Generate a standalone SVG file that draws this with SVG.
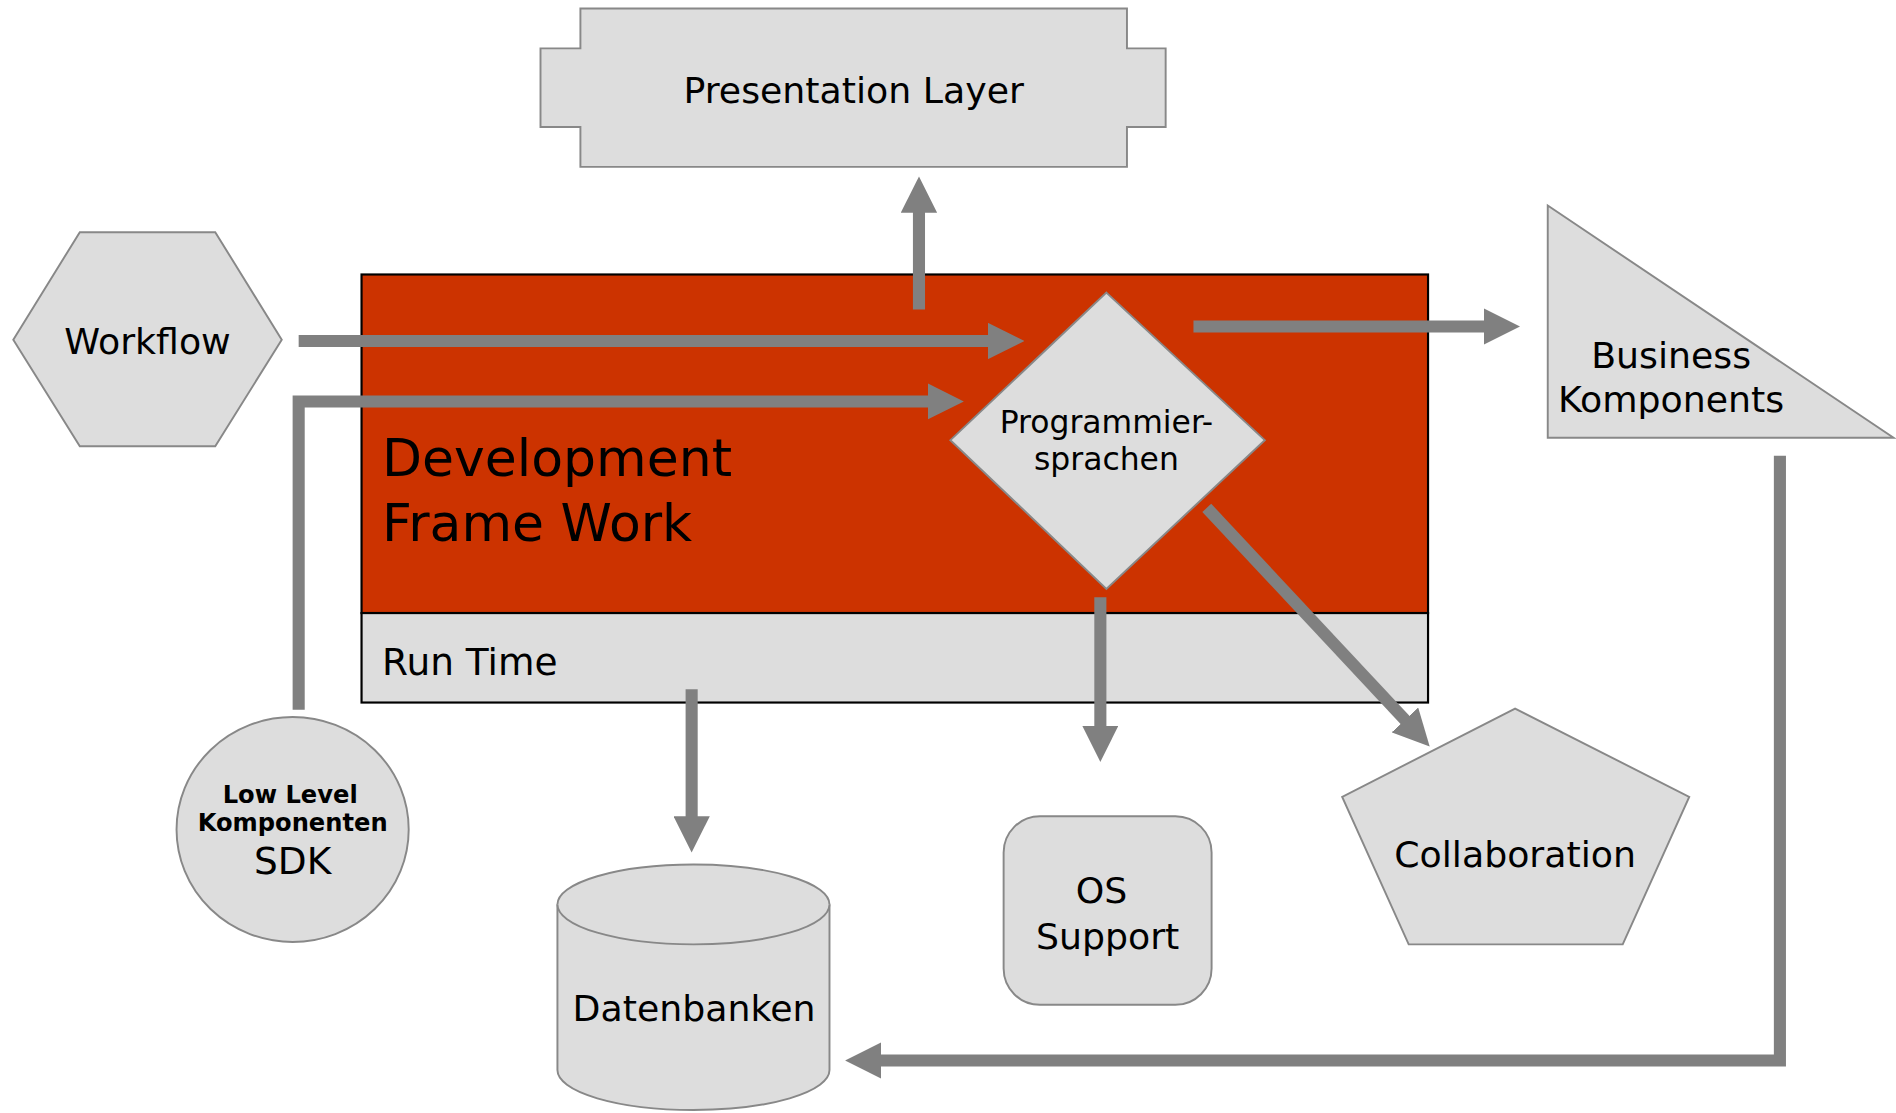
<svg xmlns="http://www.w3.org/2000/svg" width="1896" height="1113" viewBox="0 0 1896 1113">
<defs>
<style>
.shape{fill:#dddddd;stroke:#888888;stroke-width:1.6}
.t{font-family:"DejaVu Sans",Verdana,sans-serif;fill:#000000;text-anchor:middle}
.tl{font-family:"DejaVu Sans",Verdana,sans-serif;fill:#000000}
.conn{fill:none;stroke:#808080;stroke-width:10;stroke-linejoin:miter}
</style>
<marker id="ah" viewBox="0 0 10 10" refX="0.3" refY="5" markerWidth="3" markerHeight="3" orient="auto" markerUnits="strokeWidth">
<path d="M0,0 L10,5 L0,10 z" fill="#808080"/>
</marker>
</defs>
<rect x="0" y="0" width="1896" height="1113" fill="#ffffff"/>
<g transform="scale(1.20918)">
<g id="devframework">
<rect x="299" y="227" width="882" height="280" fill="#cc3300" stroke="#000000" stroke-width="1.8"/>
<text class="tl" x="316" y="394" font-size="43">Development</text>
<text class="tl" x="316" y="447" font-size="43">Frame Work</text>
</g>
<g id="runtime">
<rect x="299" y="507" width="882" height="74" fill="#dddddd" stroke="#000000" stroke-width="1.8"/>
<text class="tl" x="316" y="558" font-size="31">Run Time</text>
</g>
<g id="presentation">
<polygon class="shape" points="480,7 932,7 932,40 964,40 964,105 932,105 932,138 480,138 480,105 447,105 447,40 480,40"/>
<text class="t" x="706" y="85" font-size="30">Presentation Layer</text>
</g>
<g id="workflow">
<polygon class="shape" points="11,281 66,192 178,192 233,281 178,369 66,369"/>
<text class="t" x="122" y="293" font-size="30">Workflow</text>
</g>
<g id="programmiersprachen">
<polygon class="shape" points="915,242 1046,364 915,487 786,364"/>
<text class="t" x="915" y="358" font-size="26">Programmier-</text>
<text class="t" x="915" y="389" font-size="26">sprachen</text>
</g>
<g id="business">
<polygon class="shape" points="1280,170 1280,362 1566,362"/>
<text class="t" x="1382" y="304" font-size="30">Business</text>
<text class="t" x="1382" y="341" font-size="30">Komponents</text>
</g>
<g id="sdk">
<ellipse class="shape" cx="242" cy="686" rx="96" ry="93"/>
<text class="t" x="240" y="664" font-size="20" font-weight="bold">Low Level</text>
<text class="t" x="242" y="687" font-size="20" font-weight="bold">Komponenten</text>
<text class="t" x="242" y="723" font-size="31">SDK</text>
</g>
<g id="datenbanken">
<path class="shape" d="M461,748 A112.5,33 0 0,1 686,748 L686,885 A112.5,33 0 0,1 461,885 Z"/>
<path class="shape" fill="none" d="M461,748 A112.5,33 0 0,0 686,748"/>
<text class="t" x="574" y="844" font-size="30">Datenbanken</text>
</g>
<g id="ossupport">
<rect class="shape" x="830" y="675" width="172" height="156" rx="30" ry="30"/>
<text class="t" x="911" y="747" font-size="30">OS</text>
<text class="t" x="916" y="785" font-size="30">Support</text>
</g>
<g id="collaboration">
<polygon class="shape" points="1253,586 1397,659 1342,781 1165,781 1110,659"/>
<text class="t" x="1253" y="717" font-size="30">Collaboration</text>
</g>
<g id="connectors">
<path class="conn" marker-end="url(#ah)" d="M760,256 L760,175"/>
<path class="conn" marker-end="url(#ah)" d="M247,282 L818,282"/>
<path class="conn" marker-end="url(#ah)" d="M247,587 L247,332 L768,332"/>
<path class="conn" marker-end="url(#ah)" d="M987,270 L1228,270"/>
<path class="conn" marker-end="url(#ah)" d="M572,570 L572,676"/>
<path class="conn" marker-end="url(#ah)" d="M910,494 L910,601"/>
<path class="conn" marker-end="url(#ah)" d="M998,420 L1162.5,596"/>
<path class="conn" marker-end="url(#ah)" d="M1472,377 L1472,877 L728,877"/>
</g>
</g>
</svg>
